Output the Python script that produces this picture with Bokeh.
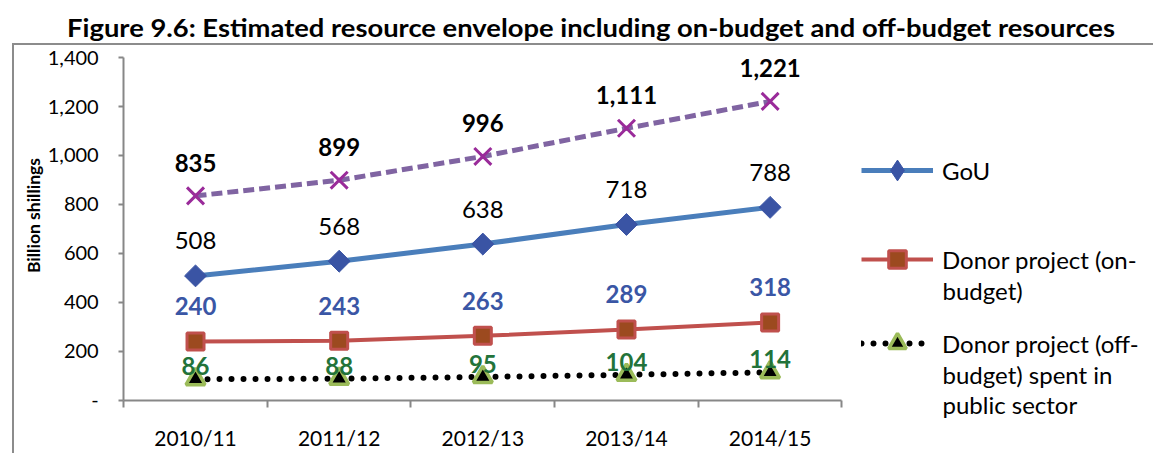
import math
from bokeh.plotting import figure
from bokeh.layouts import column
from bokeh.models import (FixedTicker, Range1d, Label, Legend, LegendItem,
                          ColumnDataSource, Div)
from bokeh.core.properties import value
from bokeh.embed import file_html
from bokeh.resources import INLINE

# ---- data ----
categories = ["2010/11", "2011/12", "2012/13", "2013/14", "2014/15"]
gou = [508, 568, 638, 718, 788]
donor_on = [240, 243, 263, 289, 318]
donor_off = [86, 88, 95, 104, 114]
total = [835, 899, 996, 1111, 1221]
y_ticks = [0, 200, 400, 600, 800, 1000, 1200, 1400]

title_text = "Figure 9.6: Estimated resource envelope including on-budget and off-budget resources"
y_title = "Billion shillings"
legend_gou = ["GoU"]
legend_on = ["Donor project (on-", "budget)"]
legend_off = ["Donor project (off-", "budget) spent in", "public sector"]

FONT = "Lato"
AX = "#878787"
BOX = "#8C8C8C"

# ---- geometry (pixels) ----
TITLE_H = 43
FW, FH = 1139, 408          # frame = whole figure area
AX_X0, AX_Y0 = 109, 55      # position of the axes origin inside the frame (from left / bottom)
CAT_PX = 143.4              # pixels per category
Y_PX = 341                  # pixels for the full value axis

n = len(categories)
xs = [i + 0.5 for i in range(n)]
y_max = y_ticks[-1]
upp = y_max / Y_PX
x_start = -AX_X0 / CAT_PX
x_end = (FW - AX_X0) / CAT_PX
y_start = -AX_Y0 * upp
y_end = (FH - AX_Y0) * upp

def fmt(v):
    return f"{v:,}"

src = ColumnDataSource(dict(
    x=xs, gou=gou, on=donor_on, off=donor_off, total=total,
    gou_t=[fmt(v) for v in gou], on_t=[fmt(v) for v in donor_on],
    off_t=[fmt(v) for v in donor_off], total_t=[fmt(v) for v in total],
))

p = figure(frame_width=FW, frame_height=FH, output_backend="svg", toolbar_location=None,
           x_range=Range1d(x_start, x_end), y_range=Range1d(y_start, y_end),
           min_border_left=0, min_border_right=0, min_border_top=0, min_border_bottom=0)
p.outline_line_color = None
p.xgrid.visible = False
p.ygrid.visible = False
p.background_fill_color = "white"
p.border_fill_color = "white"
p.styles = {"border-left": f"2px solid {BOX}", "border-top": f"2px solid {BOX}",
            "margin-left": "12px"}

# x axis
xa = p.xaxis[0]
xa.fixed_location = 0
xa.bounds = (0, n)
xa.ticker = FixedTicker(ticks=xs, minor_ticks=list(range(n + 1)))
xa.major_label_overrides = {x: c for x, c in zip(xs, categories)}
xa.major_tick_out = 0
xa.major_tick_in = 0
xa.minor_tick_out = 7
xa.minor_tick_in = 0
xa.minor_tick_line_color = AX
xa.minor_tick_line_width = 2
xa.axis_line_color = AX
xa.axis_line_width = 2
xa.major_label_text_font = FONT
xa.major_label_text_font_size = "21px"
xa.major_label_text_color = "black"
xa.major_label_standoff = 18

ya = p.yaxis[0]
ya.fixed_location = 0
ya.bounds = (0, y_max)
ya.ticker = FixedTicker(ticks=y_ticks, minor_ticks=[])
ya.major_label_overrides = {t: ("-" if t == 0 else fmt(t)) for t in y_ticks}
ya.major_tick_out = 5
ya.major_tick_in = 0
ya.major_tick_line_color = AX
ya.major_tick_line_width = 2
ya.minor_tick_line_color = None
ya.axis_line_color = AX
ya.axis_line_width = 2
ya.major_label_text_font = FONT
ya.major_label_text_font_size = "20px"
ya.major_label_text_color = "black"
ya.major_label_standoff = 20

# ---- series ----
off_line = p.line("x", "off", source=src, line_color="black", line_width=6,
                  line_dash="0 12", line_cap="round")
off_mk = p.scatter("x", "off", source=src, marker="triangle", size=19,
                   fill_color="black", line_color="#9BBB59", line_width=3.5)

on_line = p.line("x", "on", source=src, line_color="#C0504D", line_width=4)
on_mk = p.scatter("x", "on", source=src, marker="square", size=17,
                  fill_color="#9C4A1F", line_color="#C0504D", line_width=3)

gou_line = p.line("x", "gou", source=src, line_color="#4A7EBB", line_width=5)
# plain diamond (used for the legend sample), covered by the square-shaped diamond
gou_leg = p.scatter("x", "gou", source=src, marker="diamond", size=14,
                    fill_color="#3A54A4", line_color="#3A54A4", line_width=1)
gou_mk = p.scatter("x", "gou", source=src, marker="square", angle=math.pi / 4, size=15.5,
                   fill_color="#3A54A4", line_color="#3A54A4", line_width=1)

tot_line = p.line("x", "total", source=src, line_color="#8064A2", line_width=5,
                  line_dash="11 5")
tot_mk = p.scatter("x", "total", source=src, marker="x", size=24,
                   line_color="#9A2B9A", line_width=3)

# ---- data labels ----
LBL = "24px"
p.text("x", "total", text="total_t", source=src, y_offset=-33, text_align="center",
       text_baseline="middle", text_font=value(FONT), text_font_style="bold",
       text_font_size=LBL, text_color="black")
p.text("x", "gou", text="gou_t", source=src, y_offset=-35, text_align="center",
       text_baseline="middle", text_font=value(FONT),
       text_font_size=LBL, text_color="black")
p.text("x", "on", text="on_t", source=src, y_offset=-35, text_align="center",
       text_baseline="middle", text_font=value(FONT), text_font_style="bold",
       text_font_size=LBL, text_color="#3A56A5")
p.text("x", "off", text="off_t", source=src, y_offset=-13, text_align="center",
       text_baseline="middle", text_font=value(FONT), text_font_style="bold",
       text_font_size=LBL, text_color="#23733A")

# ---- y title (screen units relative to frame bottom-left) ----
p.add_layout(Label(x=19, y=240, x_units="screen", y_units="screen", text=y_title,
                   angle=math.pi / 2, text_align="center", text_baseline="middle",
                   text_font=FONT, text_font_style="bold", text_font_size="17.5px",
                   text_color="black"))

# ---- legend ----
LX = 847
def add_legend(lines, renderers, cy, gh=44):
    leg = Legend(items=[LegendItem(label=lines[0], renderers=renderers)],
                 location=(LX, cy - gh / 2), glyph_width=72, glyph_height=gh, label_height=20,
                 label_standoff=9, padding=0, margin=0, spacing=0,
                 border_line_color=None, background_fill_alpha=0,
                 label_text_font=FONT, label_text_font_size="24px",
                 label_text_baseline="middle", label_text_color="black")
    p.add_layout(leg, "center")
    for k, t in enumerate(lines[1:]):
        p.add_layout(Label(x=LX + 81, y=cy - 30.5 * (k + 1), x_units="screen", y_units="screen",
                           text=t, text_align="left", text_baseline="middle",
                           text_font=FONT, text_font_size="24px", text_color="black"))

add_legend(legend_gou, [gou_line, gou_leg], 285, gh=52)
add_legend(legend_on, [on_line, on_mk], 196)
add_legend(legend_off, [off_line, off_mk], 112)

title = Div(text=(f'<div style="position:absolute; left:27px; top:16px; width:1128px; '
                  f'text-align:center; font-family:{FONT}; font-weight:bold; font-size:24px; '
                  f'color:black; white-space:nowrap; line-height:1; '
                  f'transform:scaleX(1.14); transform-origin:center;">{title_text}</div>'),
            width=1150, height=TITLE_H, margin=0)

layout = column(title, p, spacing=0)
open("out.html", "w").write(file_html(layout, INLINE))
